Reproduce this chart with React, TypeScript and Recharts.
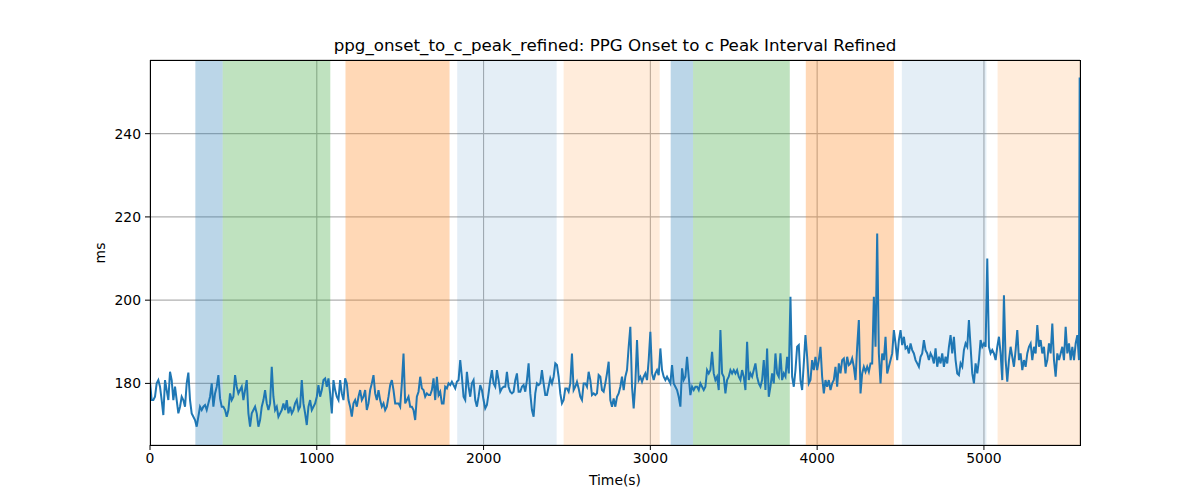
import React from 'react';
import {
  LineChart,
  Line,
  XAxis,
  YAxis,
  CartesianGrid,
  ReferenceArea,
} from 'recharts';

const SAMPLE_STEP = 10; // seconds between samples

// ppg onset -> c peak interval (ms), one value per SAMPLE_STEP seconds, in four chunks
const msPart1: number[] = [
  180.4, 176, 176, 176.8, 180, 180.8, 179.2, 176, 172.4, 180.8,
  178.4, 176, 182.8, 180.8, 176, 179.2, 176, 172.8, 174.4, 176.8,
  176, 174.4, 180, 182.6, 176, 172.8, 172, 171.2, 169.6, 172,
  174.4, 173.6, 174.4, 174.8, 173.6, 175.2, 176.8, 180, 174.4, 177.6,
  179.2, 182, 176.4, 174.4, 174.4, 173.6, 172, 173.6, 177.6, 176,
  176.8, 182, 179.2, 177.6, 178.4, 179.2, 176, 178.4, 180.8, 172.8,
  169.6, 172.8, 173.6, 174.4, 172.8, 169.6, 171.2, 174.4, 176, 178.4,
  175.2, 173.6, 175.2, 184, 176.8, 173.6, 174.4, 172, 172.8, 173.6,
  175.2, 173.6, 176, 172.8, 174.4, 172.8, 173.6, 175.2, 176, 173.6,
  174.4, 180.8, 175.2, 172.8, 170, 174.4, 176, 173.6, 174.4, 175.2,
  176.8, 179.6, 176.8, 178.4, 180.8, 181.2, 179.2, 181.2, 177.6, 172.8,
  180.8, 178.4, 176.8, 176, 180.8, 177.6, 176, 181.2, 180, 176,
  174.4, 172, 175.2, 176, 174.4, 176.8, 178.4, 176, 176.8, 178.4,
  173.6, 175.2, 178.4, 180, 182, 177.6, 176, 178.4, 176, 174.4,
  175.2,
];

const msPart2: number[] = [
  173.6, 174.4, 176.8, 179.6, 180.8, 178.4, 175.2, 175.2, 175.2, 174.4,
  180, 187.2, 175.2, 176, 176.8, 174.4, 174.4, 173.6, 171.2, 176.8,
  178, 181.6, 178.8, 178.4, 176.8, 177.6, 177.2, 177.2, 178.4, 181.2,
  176, 181.6, 177.2, 178, 175.2, 175.2, 179.2, 178.8, 180, 179.6,
  180.4, 179.6, 178.8, 180.4, 180.8, 185.6, 181.6, 176.8, 176, 182.8,
  179.2, 176.8, 180, 180.8, 176, 174.4, 176.8, 179.6, 178.4, 176,
  174, 174.8, 177.6, 180.8, 183.2, 180, 179.2, 183.2, 180.8, 178,
  178.8, 179.2, 179.2, 182.8, 179.2, 178, 177.6, 178, 180.8, 182.4,
  178, 178, 179.2, 179.6, 178, 180.8, 184.8, 177.6, 173.6, 172,
  177.6, 180, 179.6, 180, 183.2, 180, 177.2, 177.2, 179.2, 181.2,
  180, 181.6, 184.8, 184.4, 181.6, 177.6, 175.2, 176, 178.8, 178.8,
  178, 180, 187.2, 178.4, 179.2, 180.4, 178.8, 176.8, 176, 180,
  180, 179.2, 182.8, 180.8, 177.2, 177.6, 177.2, 177.6, 182, 181.6,
  178.4, 178, 180, 182.4, 185.2, 176, 174.4, 176.4,
];

const msPart3: number[] = [
  174.4, 176.8, 177.6, 179.2, 181.6, 178.4, 181.6, 183.2, 188.8, 193.6,
  179.2, 174, 180, 190.4, 180.8, 181.6, 180.4, 181.6, 182.4, 180.8,
  185.6, 192.4, 182.4, 180.8, 182.4, 183.2, 182, 188.4, 183.2, 181.6,
  180.8, 181.6, 180.8, 180, 184.4, 180, 179.2, 178.4, 176.8, 174.4,
  183.6, 180.8, 181.6, 186.4, 181.6, 177.2, 179.2, 178.4, 179.2, 179.2,
  178.4, 180, 179.2, 178.4, 179.2, 183.2, 182.4, 183.2, 187.6, 182.4,
  180.8, 181.6, 178.4, 192.8, 182.4, 181.6, 177.6, 180.8, 181.6, 183.2,
  182.4, 183.2, 182.4, 183.2, 181.6, 180.8, 183.2, 181.6, 178.4, 190,
  180.8, 182.4, 181.6, 183.2, 184.8, 181.6, 180, 179.2, 180.8, 185.6,
  178.4, 188.4, 176.8, 179.2, 182.4, 180, 187.2, 182.4, 181.6, 187.2,
  180.8, 182.4, 181.6, 186.4, 182.4, 200.8, 181.6, 179.2, 183.2, 188.8,
  189.2, 180.8, 178.4, 184.8, 191.6, 186.4, 180, 180.8, 185.6, 183.2,
  186.4, 183.2, 185.6, 188.8, 181.6, 177.6, 180.8, 179.2, 180.8, 178.4,
  180, 180.8, 184, 179.2, 184.8, 182.4, 185.6, 186,
];

const msPart4: number[] = [
  182.4, 186.4, 184.4, 184.8, 186, 184, 180.8, 188.8, 195.2, 177.6,
  182.4, 184, 182.8, 184, 182.8, 184.8, 184.8, 200.8, 188.8, 216,
  187.2, 180, 187.2, 185.6, 191.2, 182.4, 184, 185.6, 187.2, 192.8,
  189.6, 185.6, 190.4, 192.8, 189.2, 191.2, 188.4, 188.8, 187.2, 189.6,
  188, 187.2, 185.6, 184.8, 184, 186.4, 187.2, 190.4, 188, 187.2,
  185.6, 187.2, 186.4, 184.8, 188.4, 184, 186.4, 184.8, 187.2, 184,
  186.4, 184.8, 188.8, 191.6, 187.2, 191.2, 185.6, 182.4, 182, 184.8,
  184, 188, 189.6, 188.8, 195.2, 188.8, 182.4, 180, 184.8, 182.4,
  185.6, 190.4, 188.8, 189.6, 188.8, 210, 188.8, 187.2, 188, 187.2,
  185.6, 188.8, 191.2, 187.2, 180.8, 201.2, 185.6, 180.4, 185.6, 188.8,
  186.4, 184, 188, 192.8, 185.6, 187.2, 183.2, 185.6, 184, 187.2,
  188.8, 189.6, 185.6, 188.8, 187.2, 194, 188.8, 190.4, 187.2, 188.8,
  184, 185.6, 189.6, 187.2, 194.4, 185.6, 181.6, 187.2, 185.6, 187.2,
  188.8, 185.6, 193.6, 187.2, 189.6, 185.6, 188.8, 185.6, 189.6, 191.6,
  185.6,
];

// final outlier sample at the very end of the record
const lastTime = 5574;
const lastValue = 253.5;

// shaded phases: start / end (s) and kind
const phaseStart = [272, 436, 1172, 1842, 2480, 3122, 3256, 3932, 4508, 5082];
const phaseEnd = [436, 1081, 1796, 2438, 3056, 3256, 3836, 4460, 5015, 5576];
const phaseKind = [
  'blue', 'green', 'orange', 'lightBlue', 'lightOrange',
  'blue', 'green', 'orange', 'lightBlue', 'lightOrange',
];

const xTicks = [0, 1000, 2000, 3000, 4000, 5000];
const yTicks = [180, 200, 220, 240];

const phaseStyle: Record<string, { fill: string; opacity: number }> = {
  blue: { fill: '#1f77b4', opacity: 0.3 },
  green: { fill: '#2ca02c', opacity: 0.3 },
  orange: { fill: '#ff7f0e', opacity: 0.3 },
  lightBlue: { fill: '#1f77b4', opacity: 0.12 },
  lightOrange: { fill: '#ff7f0e', opacity: 0.15 },
};

const intervalMs = [...msPart1, ...msPart2, ...msPart3, ...msPart4];
const data = [
  ...intervalMs.map((v, i) => ({ t: i * SAMPLE_STEP, v })),
  { t: lastTime, v: lastValue },
];

const FONT = '"DejaVu Sans", sans-serif';

export default function App() {
  return (
    <div style={{ position: 'absolute', left: 0, top: 0, width: 1200, height: 500, background: '#fff', fontFamily: FONT }}>
      <LineChart
        width={1200}
        height={500}
        data={data}
        margin={{ top: 60, right: 120, bottom: 25, left: 90 }}
      >
        {phaseStart.map((s, i) => (
          <ReferenceArea
            key={`phase-${i}`}
            x1={s}
            x2={phaseEnd[i]}
            fill={phaseStyle[phaseKind[i]].fill}
            fillOpacity={phaseStyle[phaseKind[i]].opacity}
            stroke="none"
            ifOverflow="hidden"
          />
        ))}
        <CartesianGrid stroke="#b0b0b0" strokeWidth={1.1} />
        <XAxis
          dataKey="t"
          type="number"
          domain={[0, 5576]}
          ticks={xTicks}
          allowDataOverflow
          height={30}
          axisLine={false}
          tickLine={{ stroke: '#000' }}
          tickSize={5}
          tickMargin={3}
          tick={{ fill: '#000', fontSize: 13.9, fontFamily: FONT }}
        />
        <YAxis
          type="number"
          domain={[165.2, 257.7]}
          ticks={yTicks}
          allowDataOverflow
          width={60}
          axisLine={false}
          tickLine={{ stroke: '#000' }}
          tickSize={5}
          tickMargin={4}
          tick={{ fill: '#000', fontSize: 13.9, fontFamily: FONT }}
        />
        <Line
          type="linear"
          dataKey="v"
          stroke="#1f77b4"
          strokeWidth={2}
          dot={false}
          isAnimationActive={false}
        />
      </LineChart>
      <div
        style={{
          position: 'absolute', left: 150, top: 60, width: 931, height: 386,
          boxSizing: 'border-box', border: '1px solid #000', pointerEvents: 'none',
        }}
      />
      <div style={{ position: 'absolute', left: 150, width: 930, top: 35, textAlign: 'center', fontSize: 16.7, lineHeight: '20px', color: '#000' }}>
        ppg_onset_to_c_peak_refined: PPG Onset to c Peak Interval Refined
      </div>
      <div style={{ position: 'absolute', left: 150, width: 930, top: 472, textAlign: 'center', fontSize: 13.9, lineHeight: '16px', color: '#000' }}>
        Time(s)
      </div>
      <div style={{ position: 'absolute', left: 100, top: 253, transform: 'translate(-50%, -50%) rotate(-90deg)', fontSize: 13.9, lineHeight: '16px', color: '#000' }}>
        ms
      </div>
    </div>
  );
}
